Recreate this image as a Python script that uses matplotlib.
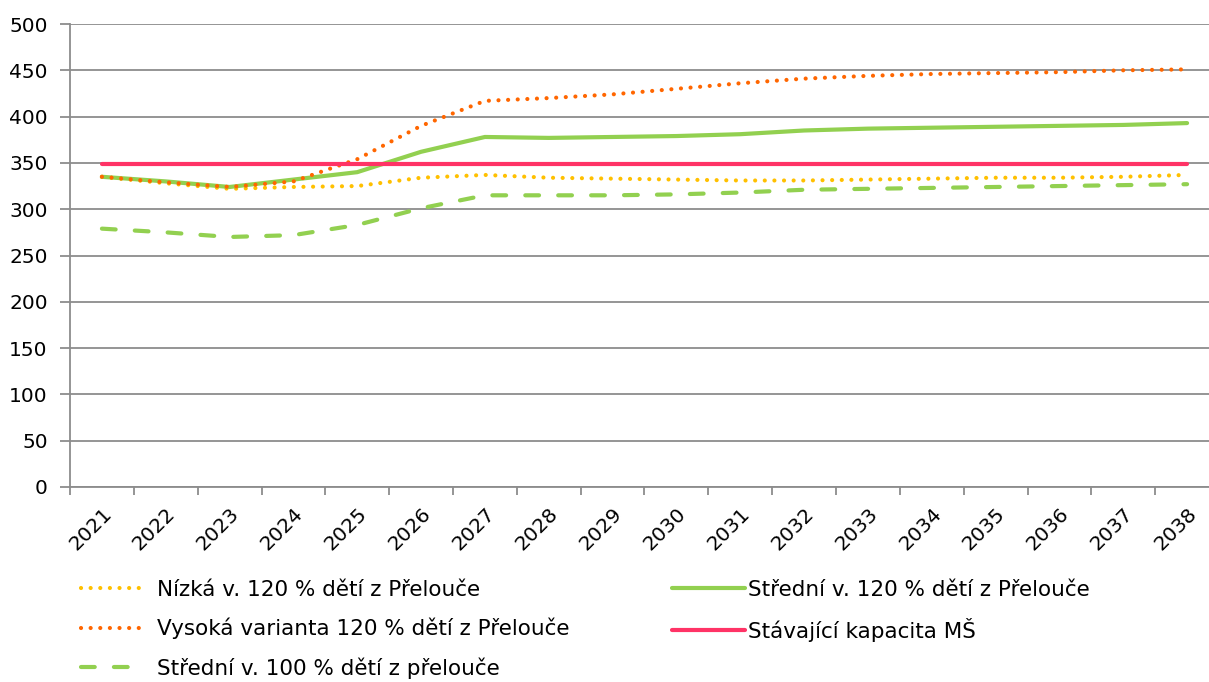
import numpy as np
import matplotlib
matplotlib.use('Agg')
import matplotlib.pyplot as plt
import matplotlib.transforms as mtransforms

# Data
years = [str(y) for y in range(2021, 2039)]
nizka_120 = [335, 328, 322, 324, 325, 334, 337, 334, 333, 332, 331, 331, 332, 333, 334, 334, 335, 337]
stredni_120 = [335, 330, 324, 332, 340, 362, 378, 377, 378, 379, 381, 385, 387, 388, 389, 390, 391, 393]
vysoka_120 = [335, 329, 324, 330, 354, 390, 417, 420, 424, 430, 436, 441, 444, 446, 447, 448, 450, 451]
kapacita = [349] * 18
stredni_100 = [279, 275, 270, 272, 283, 301, 315, 315, 315, 316, 318, 321, 322, 323, 324, 325, 326, 327]

labels = ['Nízká v. 120 % dětí z Přelouče',
          'Střední v. 120 % dětí z Přelouče',
          'Vysoká varianta 120 % dětí z Přelouče',
          'Stávající kapacita MŠ',
          'Střední v. 100 % dětí z přelouče']

plt.rcParams['font.family'] = ['DejaVu Sans']
plt.rcParams['font.size'] = 14.5

fig = plt.figure(figsize=(12.09, 6.82), dpi=100)
ax = fig.add_axes([70 / 1209, 195 / 682, 1149 / 1209, 463 / 682])

x = np.arange(len(years))
dot = (0, (0.01, 2.3))
l1, = ax.plot(x, nizka_120, color='#FFC000', lw=3, linestyle=dot,
              dash_capstyle='round', label=labels[0])
l2, = ax.plot(x, stredni_120, color='#92D050', lw=3, solid_capstyle='round',
              label=labels[1])
l3, = ax.plot(x, vysoka_120, color='#FF6600', lw=3, linestyle=dot,
              dash_capstyle='round', label=labels[2])
l4, = ax.plot(x, kapacita, color='#FF3366', lw=3, solid_capstyle='round',
              label=labels[3])
l5, = ax.plot(x, stredni_100, color='#92D050', lw=3, linestyle=(0, (3.3, 4.6)),
              dash_capstyle='round', label=labels[4])

ax.set_xlim(-0.5, len(years) - 0.5)
ax.set_ylim(0, 500)
ax.set_yticks(np.arange(0, 501, 50))
ax.grid(axis='y', color='#8C8C8C', lw=1.3)
ax.set_axisbelow(True)

ax.set_xticks(x)
ax.set_xticklabels(years, rotation=45, ha='right', va='top', rotation_mode='anchor')
shift = mtransforms.ScaledTranslation(-5 / 100, 0, fig.dpi_scale_trans)
for t in ax.get_xticklabels():
    t.set_transform(t.get_transform() + shift)
ax.set_xticks(np.arange(-0.5, len(years), 1), minor=True)
ax.tick_params(axis='x', which='major', length=0, pad=12)
ax.tick_params(axis='x', which='minor', length=6, color='#8C8C8C', width=1.3)
ax.tick_params(axis='y', length=7, color='#8C8C8C', width=1.3, pad=9)

for s in ['top', 'right']:
    ax.spines[s].set_visible(False)
for s in ['left', 'bottom']:
    ax.spines[s].set_color('#8C8C8C')
    ax.spines[s].set_linewidth(1.3)

leg1 = fig.legend([l1, l3, l5], [labels[0], labels[2], labels[4]],
                  loc='upper left', bbox_to_anchor=(72 / 1209, 1 - 571 / 682),
                  frameon=False, fontsize=15.5, handlelength=3.0, handletextpad=0.55,
                  labelspacing=0.84, borderaxespad=0)
leg2 = fig.legend([l2, l4], [labels[1], labels[3]],
                  loc='upper left', bbox_to_anchor=(663 / 1209, 1 - 571 / 682),
                  frameon=False, fontsize=15.5, handlelength=3.4, handletextpad=0.15,
                  labelspacing=0.84, borderaxespad=0)

fig.savefig('out.png', dpi=100)
